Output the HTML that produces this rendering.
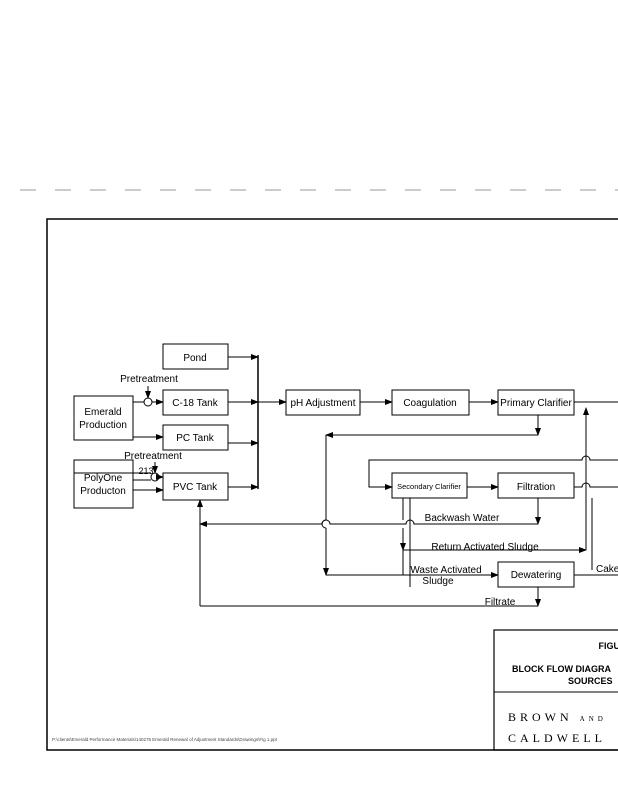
<!DOCTYPE html>
<html><head><meta charset="utf-8"><style>
html,body{margin:0;padding:0;background:#fff;}
svg{display:block;font-family:"Liberation Sans",Arial,sans-serif;}
</style></head><body>
<svg width="618" height="800" viewBox="0 0 618 800" xmlns="http://www.w3.org/2000/svg">
<defs>
<marker id="a" markerWidth="8" markerHeight="6" refX="7" refY="3" orient="auto" markerUnits="userSpaceOnUse"><path d="M0,0 L8,3 L0,6 z" fill="#000"/></marker>
</defs>
<line x1="20" y1="190" x2="618" y2="190" stroke="#bbb" stroke-width="1.5" stroke-dasharray="16,19"/>
<g fill="none" stroke="#000">
<rect x="47" y="219" width="600" height="531" stroke-width="1.5"/>
<rect x="494" y="630" width="130" height="120" stroke-width="1.2"/>
<line x1="494" y1="692" x2="618" y2="692"/>
<rect x="163" y="344" width="65" height="25"/>
<rect x="163" y="390" width="65" height="25"/>
<rect x="163" y="425" width="65" height="25"/>
<rect x="163" y="473" width="65" height="27"/>
<rect x="74" y="396" width="59" height="44"/>
<rect x="74" y="460" width="59" height="48"/>
<rect x="286" y="390" width="74" height="25"/>
<rect x="392" y="390" width="77" height="25"/>
<rect x="498" y="390" width="76" height="25"/>
<rect x="392" y="473" width="75" height="25"/>
<rect x="498" y="473" width="76" height="25"/>
<rect x="498" y="562" width="76" height="25"/>
<line x1="133" y1="402" x2="144" y2="402"/>
<circle cx="148" cy="402" r="4"/>
<line x1="152" y1="402" x2="163" y2="402" marker-end="url(#a)"/>
<line x1="148" y1="386" x2="148" y2="398" marker-end="url(#a)"/>
<line x1="133" y1="437" x2="163" y2="437" marker-end="url(#a)"/>
<line x1="74" y1="473" x2="151" y2="473"/>
<circle cx="155" cy="477" r="4"/>
<line x1="133" y1="480" x2="151" y2="480"/>
<line x1="159" y1="477" x2="163" y2="477" marker-end="url(#a)"/>
<line x1="155" y1="462" x2="155" y2="473" marker-end="url(#a)"/>
<line x1="133" y1="490" x2="163" y2="490" marker-end="url(#a)"/>
<line x1="228" y1="357" x2="258" y2="357" marker-end="url(#a)"/>
<line x1="228" y1="402" x2="258" y2="402" marker-end="url(#a)"/>
<line x1="228" y1="443" x2="258" y2="443" marker-end="url(#a)"/>
<line x1="228" y1="487" x2="258" y2="487" marker-end="url(#a)"/>
<line x1="258" y1="355" x2="258" y2="489" stroke-width="1.5"/>
<line x1="258" y1="402" x2="286" y2="402" marker-end="url(#a)"/>
<line x1="360" y1="402" x2="392" y2="402" marker-end="url(#a)"/>
<line x1="469" y1="402" x2="498" y2="402" marker-end="url(#a)"/>
<line x1="574" y1="402" x2="618" y2="402"/>
<line x1="538" y1="415" x2="538" y2="435" marker-end="url(#a)"/>
<line x1="538" y1="435" x2="326" y2="435" marker-end="url(#a)"/>
<line x1="326" y1="435" x2="326" y2="520"/>
<path d="M326,520 a4,4 0 0 0 0,8"/>
<line x1="326" y1="528" x2="326" y2="575" marker-end="url(#a)"/>
<path d="M618,460 L590,460 a4,4 0 0 0 -8,0 L369,460 L369,487 L392,487" marker-end="url(#a)"/>
<line x1="467" y1="487" x2="498" y2="487" marker-end="url(#a)"/>
<path d="M618,487 L590,487 a4,4 0 0 0 -8,0 L574,487"/>
<line x1="586" y1="550" x2="586" y2="408" marker-end="url(#a)"/>
<line x1="538" y1="498" x2="538" y2="524" marker-end="url(#a)"/>
<path d="M538,524 L414,524 a4,4 0 0 0 -8,0 L330,524 a4,4 0 0 0 -8,0 L200,524" marker-end="url(#a)"/>
<line x1="403" y1="498" x2="403" y2="520"/>
<line x1="403" y1="528" x2="403" y2="550" marker-end="url(#a)"/>
<line x1="403" y1="550" x2="403" y2="575"/>
<line x1="410" y1="498" x2="410" y2="587"/>
<line x1="403" y1="550" x2="586" y2="550" marker-end="url(#a)"/>
<line x1="326" y1="575" x2="498" y2="575" marker-end="url(#a)"/>
<line x1="574" y1="575" x2="618" y2="575"/>
<line x1="592" y1="498" x2="592" y2="570"/>
<line x1="538" y1="587" x2="538" y2="606" marker-end="url(#a)"/>
<line x1="538" y1="606" x2="200" y2="606"/>
<line x1="200" y1="606" x2="200" y2="500" marker-end="url(#a)"/>
</g>
<g font-size="10" fill="#000" text-anchor="middle">
<text x="195" y="361">Pond</text>
<text x="195" y="406">C-18 Tank</text>
<text x="195" y="441">PC Tank</text>
<text x="195" y="490">PVC Tank</text>
<text x="103" y="415">Emerald</text>
<text x="103" y="428">Production</text>
<text x="103" y="481">PolyOne</text>
<text x="103" y="494">Producton</text>
<text x="149" y="382">Pretreatment</text>
<text x="153" y="459">Pretreatment</text>
<text x="146" y="474" font-size="9">213</text>
<text x="323" y="406">pH Adjustment</text>
<text x="430" y="406">Coagulation</text>
<text x="536" y="406">Primary Clarifier</text>
<text x="429" y="489" font-size="7.5">Secondary Clarifier</text>
<text x="536" y="490">Filtration</text>
<text x="536" y="578">Dewatering</text>
<text x="462" y="521">Backwash Water</text>
<text x="485" y="550">Return Activated Sludge</text>
<text x="446" y="573">Waste Activated</text>
<text x="438" y="584">Sludge</text>
<text x="500" y="605">Filtrate</text>
<text x="596" y="572" text-anchor="start">Cake</text>
<text x="620" y="649" font-size="9" font-weight="bold" text-anchor="end">FIGU</text>
<text x="512" y="672" font-size="9" font-weight="bold" text-anchor="start">BLOCK FLOW DIAGRA</text>
<text x="568" y="684" font-size="9" font-weight="bold" text-anchor="start">SOURCES</text>
</g>
<g font-family="Liberation Serif,serif" font-size="12" letter-spacing="4">
<text x="508" y="721">BROWN <tspan font-size="7">AND</tspan></text>
<text x="508" y="742">CALDWELL</text>
</g>
<text x="52" y="741" font-size="4.5" fill="#444">P:\clients\Emerald Performance Materials\140275 Emerald Renewal of Adjustment Standards\Drawings\Fig 1.ppt</text>
</svg>
</body></html>
